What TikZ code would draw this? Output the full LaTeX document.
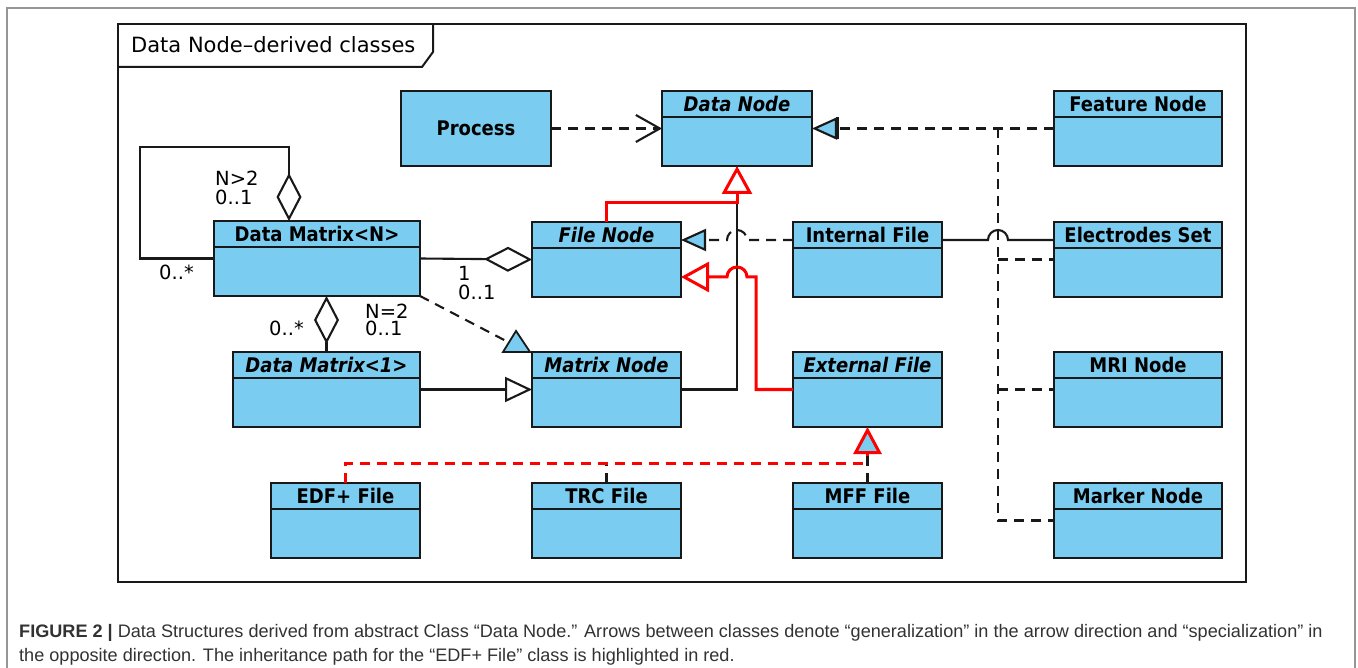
\documentclass[tikz,border=0pt]{standalone}
\usepackage{fontspec}
\setmainfont{DejaVu Sans}
\newfontfamily\capfont{Liberation Sans}
\usetikzlibrary{arrows.meta,calc}

\definecolor{classblue}{RGB}{122,205,240}
\definecolor{umlred}{RGB}{255,0,0}
\definecolor{inkline}{RGB}{25,25,25}
\definecolor{captext}{RGB}{50,50,50}
\definecolor{outerframe}{RGB}{150,150,150}

\tikzset{
  classbox/.style={draw=inkline, line width=2.3pt, fill=classblue, inner sep=0pt,
    outer sep=0pt, anchor=north west},
  classsep/.style={draw=inkline, line width=2.3pt},
  titleup/.style={inner sep=0pt, font=\fontsize{18}{20}\selectfont\bfseries},
  titleabs/.style={inner sep=0pt, font=\fontsize{18}{20}\selectfont\bfseries\itshape},
  mult/.style={inner sep=0pt, anchor=west, font=\fontsize{19.5}{21}\selectfont},
  conn/.style={draw=inkline, line width=2.1pt},
  dashconn/.style={conn, dash pattern=on 10pt off 7pt},
  realize/.style={dashconn, -{Triangle[length=25pt,width=22pt,fill=classblue]}},
  generalize/.style={conn, -{Triangle[length=27pt,width=25pt,fill=white]}},
  aggregate/.style={conn, -{Diamond[length=48pt,width=25pt,fill=white]}},
  depend/.style={dashconn, -{Straight Barb[length=24pt,width=27pt]}},
  redpath/.style={draw=umlred, line width=3pt},
  redgen/.style={redpath, -{Triangle[length=28pt,width=30pt,fill=white]}},
  redrealize/.style={redpath, dash pattern=on 10pt off 7pt,
    -{Triangle[length=27pt,width=28pt,fill=classblue]}},
}

% one UML class: name, left, top, right, bottom, title style, title
\newcommand{\umlclass}[7]{%
  \node[classbox, minimum width={#4-#2}, minimum height={#5-#3}] (#1) at (#2,#3) {};
  \draw[classsep] ($(#1.north west)+(0,26)$) -- ($(#1.north east)+(0,26)$);
  \node[#6] (#1-title) at ($(#1.north)+(0,13)$) {\scalebox{1}[1.12]{#7}};
}

\begin{document}
\begin{tikzpicture}[x=1pt, y=-1pt]
\useasboundingbox (0,0) rectangle (1358,668);
\fill[white] (0,0) rectangle (1358,668);

% outer figure frame
\draw[outerframe, line width=1.3pt] (7,680) -- (7,8) -- (1355,8) -- (1355,680);

% diagram frame with its name tab
\draw[inkline, line width=2pt] (118,24) rectangle (1246,582);
\draw[inkline, line width=2pt] (118,67) -- (422,67) -- (433,52) -- (433,24);
\node[inner sep=0pt, anchor=west, font=\fontsize{21}{24}\selectfont] (frametitle)
  at (131,45) {Data Node–derived classes};

% classes
\node[classbox, minimum width=150, minimum height=75] (proc) at (401,91) {};
\node[titleup] (proc-title) at (proc.center) {\scalebox{1}[1.12]{Process}};
\umlclass{dnode}{662}{91}{812}{166}{titleabs}{Data Node}
\umlclass{feat}{1054}{91}{1222}{166}{titleup}{Feature Node}
\umlclass{dmn}{214}{221}{420}{296}{titleup}{Data Matrix<N>}
\umlclass{fnode}{532}{222}{681}{297}{titleabs}{File Node}
\umlclass{intf}{793}{222}{942}{297}{titleup}{Internal File}
\umlclass{elec}{1054}{222}{1222}{297}{titleup}{Electrodes Set}
\umlclass{dm1}{233}{352}{420}{427}{titleabs}{Data Matrix<1>}
\umlclass{mnode}{532}{352}{681}{427}{titleabs}{Matrix Node}
\umlclass{extf}{793}{352}{942}{427}{titleabs}{External File}
\umlclass{mri}{1054}{352}{1222}{427}{titleup}{MRI Node}
\umlclass{edf}{271}{483}{420}{558}{titleup}{EDF+ File}
\umlclass{trc}{532}{483}{681}{558}{titleup}{TRC File}
\umlclass{mff}{793}{483}{942}{558}{titleup}{MFF File}
\umlclass{marker}{1054}{483}{1222}{558}{titleup}{Marker Node}

% helper points for routing
\coordinate (trunk) at ($(feat.west)+(-56,0)$);
\coordinate (intin) at ($(intf.north west)+(0,18)$);
\coordinate (dnjoin) at ($(dnode.south)+(0,37)$);
\coordinate (redturn) at ($(extf.west)+(-37,0)$);
\coordinate (fnin) at ($(fnode.north east)+(0,55)$);
\coordinate (selfcorner) at ($(dmn.north west)+(-74,-74)$);
\coordinate (selfin) at ($(dmn.north west)+(75,0)$);
\coordinate (bus) at ($(edf.north)+(0,-20)$);

% dependency Process -> Data Node
\draw[depend] (proc.east) -- (dnode.west);

% realizations of Data Node on the right
\draw[dashconn] (trunk) |- (marker.west);
\draw[dashconn] (trunk |- mri.west) -- (mri.west);
\draw[dashconn] (trunk |- elec.west) -- (elec.west);
\draw[realize] (feat.west) -- (dnode.east);
\draw[inkline, line width=3pt] ($(dnode.east)+(25,-11)$) -- ($(dnode.east)+(25,11)$);

% Matrix Node -> Data Node
\draw[conn] (mnode.east) -| (dnode.south);

% Internal File -> File Node (jumping the vertical line)
\draw[realize] (intin) -- ($(dnode.south |- intin)+(10,0)$)
  arc[start angle=0, end angle=180, radius=10pt] -- (fnode.north east |- intin);

% Internal File -- Electrodes Set (jumping the dashed trunk)
\draw[conn] (intf.north east |- intin) -- ($(trunk |- intin)+(-10,0)$)
  arc[start angle=180, end angle=0, radius=10pt] -- (elec.north west |- intin);

% highlighted path: File Node -> Data Node, External File -> File Node
\draw[redgen] (fnode.north) |- (dnjoin) -- (dnode.south);
\draw[redgen] (extf.west) -- (redturn) |- ($(dnode.south |- fnin)+(10,0)$)
  arc[start angle=0, end angle=180, radius=10pt] -- (fnin);

% aggregations around Data Matrix<N>
\draw[aggregate] (dmn.east) -- (fnode.west);
\draw[aggregate] (dmn.west) -| (selfcorner) -| (selfin);
\draw[aggregate] (dm1.north) -- (dm1.north |- dmn.south);

% Data Matrix<N> realizes Matrix Node
\draw[dashconn] (dmn.south east) -- ($(mnode.north west)+(-24,-10)$);
\filldraw[fill=classblue, draw=inkline, line width=1.8pt]
  ($(mnode.north west)+(-29,0)$) -- ($(mnode.north west)+(-16,-21)$)
  -- ($(mnode.north west)+(-2,0)$) -- cycle;

% Data Matrix<1> -> Matrix Node
\draw[generalize] (dm1.east) -- (mnode.west);

% file formats realizing External File
\draw[dashconn] (trc.north) -- (trc.north |- bus);
\draw[redrealize] (edf.north) |- (extf.south |- bus) -- (extf.south);
\draw[dashconn] (mff.north) -- ($(extf.south)+(0,26)$);

% multiplicities
\node[mult] (m1) at (215,178) {N>2};
\node[mult] (m2) at (215,197) {0..1};
\node[mult] (m3) at (159,272) {0..*};
\node[mult] (m4) at (458,273) {1};
\node[mult] (m5) at (458,292) {0..1};
\node[mult] (m6) at (269,328) {0..*};
\node[mult] (m7) at (365,311) {N=2};
\node[mult] (m8) at (365,328) {0..1};

% caption
\node[inner sep=0pt, anchor=base west, text=captext, font=\capfont\fontsize{18.1}{24}\selectfont]
  (cap1) at (19,637) {\textbf{FIGURE 2 |} Data Structures derived from abstract Class “Data Node.” Arrows between classes denote “generalization” in the arrow direction and “specialization” in};
\node[inner sep=0pt, anchor=base west, text=captext, font=\capfont\fontsize{18.1}{24}\selectfont]
  (cap2) at (19,661) {the opposite direction. The inheritance path for the “EDF+ File” class is highlighted in red.};
\end{tikzpicture}
\end{document}
